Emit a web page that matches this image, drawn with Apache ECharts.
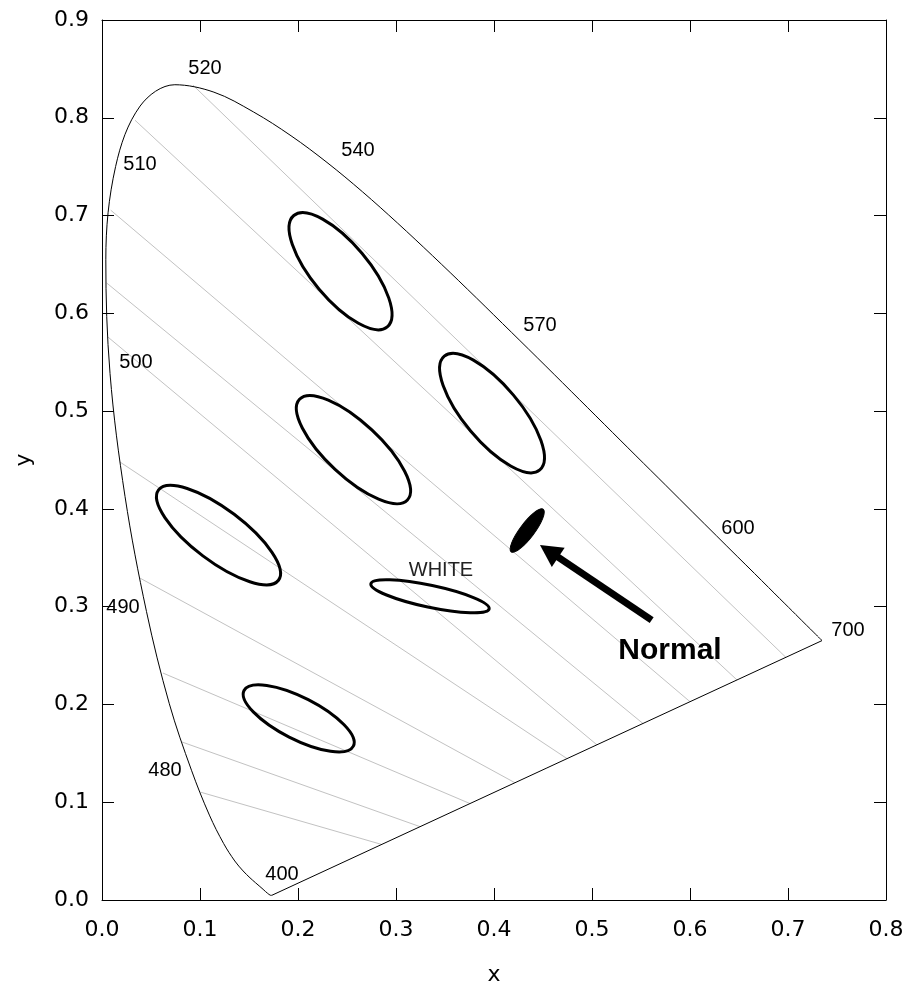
<!DOCTYPE html>
<html><head><meta charset="utf-8">
<script src="https://cdn.jsdelivr.net/npm/echarts@6/dist/echarts.min.js"></script>
<style>html,body{margin:0;padding:0;background:#fff}#c{width:909px;height:992px}</style>
</head><body><div id="c"></div>
<script>
// Spectral locus (400..700 nm)
const locusX = [0.1733,0.1730,0.1726,0.1721,0.1714,0.1703,0.1689,0.1669,0.1644,0.1611,0.1566,0.1510,0.1440,0.1355,0.1241,0.1096,0.0913,0.0687,0.0454,0.0235,0.0082,0.0039,0.0139,0.0389,0.0743,0.1142,0.1547,0.1929,0.2296,0.2658,0.3016,0.3373,0.3731,0.4087,0.4441,0.4788,0.5125,0.5448,0.5752,0.6029,0.6270,0.6482,0.6658,0.6801,0.6915,0.7006,0.7079,0.7140,0.7190,0.7230,0.7260,0.7283,0.7300,0.7311,0.7320,0.7327,0.7334,0.7340,0.7344,0.7346,0.7347];
const locusY = [0.0048,0.0048,0.0048,0.0048,0.0051,0.0058,0.0069,0.0086,0.0109,0.0138,0.0177,0.0227,0.0297,0.0399,0.0578,0.0868,0.1327,0.2007,0.2950,0.4127,0.5384,0.6548,0.7502,0.8120,0.8338,0.8262,0.8059,0.7816,0.7543,0.7243,0.6923,0.6589,0.6245,0.5896,0.5547,0.5202,0.4866,0.4544,0.4242,0.3965,0.3725,0.3514,0.3340,0.3197,0.3083,0.2993,0.2920,0.2859,0.2809,0.2770,0.2740,0.2717,0.2700,0.2689,0.2680,0.2673,0.2666,0.2660,0.2656,0.2654,0.2653];
// Purple line (700 nm back to 400 nm)
const purpleX = [0.7347, 0.1733];
const purpleY = [0.2653, 0.0048];

// Gray confusion lines: start and end points
const lineX1 = [0.0929, 0.0337, 0.0089, 0.0048, 0.0061, 0.0184, 0.0388, 0.0622, 0.0816, 0.1002];
const lineY1 = [0.8333, 0.7975, 0.7055, 0.6310, 0.5757, 0.4479, 0.3292, 0.2321, 0.1616, 0.1104];
const lineX2 = [0.698, 0.648, 0.600, 0.552, 0.505, 0.4745, 0.4214, 0.3755, 0.3245, 0.2854];
const lineY2 = [0.248, 0.225, 0.2028, 0.1805, 0.1587, 0.1446, 0.1199, 0.0986, 0.0750, 0.0568];

// Outlined ellipses: centre, semi-axes, angle (deg, counter-clockwise)
const ellX = [0.2434, 0.3980, 0.2566, 0.1189, 0.2007, 0.3347];
const ellY = [0.6431, 0.4980, 0.4606, 0.3732, 0.1858, 0.3106];
const ellA = [0.0742, 0.0758, 0.0753, 0.0766, 0.0626, 0.0617];
const ellB = [0.0286, 0.0286, 0.0276, 0.0266, 0.0215, 0.0112];
const ellAngle = [-50, -50, -43, -37, -27, -12];

// Filled "Normal" ellipse
const normX = [0.4339], normY = [0.3778], normA = [0.0272], normB = [0.0074], normAngle = [53];

// Arrow: tail -> tip
const arrowX = [0.5609, 0.4469];
const arrowY = [0.2863, 0.3630];

// Wavelength labels
const waveNames = ['520','540','510','570','500','490','480','400','600','700'];
const waveX = [0.1051, 0.2612, 0.0388, 0.4469, 0.0347, 0.0214, 0.0643, 0.1837, 0.6490, 0.7612];
const waveY = [0.8507, 0.7669, 0.7526, 0.5879, 0.5501, 0.2996, 0.1329, 0.0256, 0.3804, 0.2761];

// Text annotations
const noteNames = ['WHITE', 'Normal'];
const noteX = [0.3459, 0.5796];
const noteY = [0.3374, 0.2546];

const chart = echarts.init(document.getElementById('c'), null, {renderer: 'canvas'});
const tickFont = {fontFamily: 'DejaVu Sans', fontSize: 22, color: '#000'};
const axLine = {show: true, onZero: false, lineStyle: {color: '#000', width: 1}};
const axTick = {show: true, inside: true, length: 12, lineStyle: {color: '#000', width: 1}};

const locusData = locusX.map((x, i) => [x, locusY[i]]);
const purpleData = purpleX.map((x, i) => [x, purpleY[i]]);

function ellipseRender(params, api, filled) {
  const c = api.coord([api.value(0), api.value(1)]);
  const s = api.size([api.value(2), api.value(3)]);
  return {
    type: 'ellipse', x: c[0], y: c[1], rotation: api.value(4) * Math.PI / 180,
    shape: {cx: 0, cy: 0, rx: s[0], ry: s[1]},
    style: filled ? {fill: '#000', stroke: '#000', lineWidth: 1} : {fill: 'none', stroke: '#000', lineWidth: 3}
  };
}

const option = {
  animation: false,
  backgroundColor: '#fff',
  grid: {left: 102, top: 20, width: 784, height: 880, containLabel: false},
  xAxis: [
    {type: 'value', min: 0, max: 0.8, interval: 0.1, position: 'bottom',
     name: 'x', nameLocation: 'middle', nameGap: 64, nameTextStyle: tickFont,
     axisLine: axLine, axisTick: axTick, splitLine: {show: false},
     axisLabel: Object.assign({margin: 19, formatter: v => v.toFixed(1)}, tickFont)},
    {type: 'value', min: 0, max: 0.8, interval: 0.1, position: 'top',
     axisLine: axLine, axisTick: axTick, splitLine: {show: false}, axisLabel: {show: false}}
  ],
  yAxis: [
    {type: 'value', min: 0, max: 0.9, interval: 0.1, position: 'left',
     name: 'y', nameLocation: 'middle', nameGap: 67, nameTextStyle: tickFont,
     axisLine: axLine, axisTick: axTick, splitLine: {show: false},
     axisLabel: Object.assign({margin: 13, formatter: v => v.toFixed(1)}, tickFont)},
    {type: 'value', min: 0, max: 0.9, interval: 0.1, position: 'right',
     axisLine: axLine, axisTick: axTick, splitLine: {show: false}, axisLabel: {show: false}}
  ],
  series: [
    {type: 'lines', coordinateSystem: 'cartesian2d', silent: true, z: 1,
     lineStyle: {color: '#c2c2c2', width: 1, opacity: 1},
     data: lineX1.map((x, i) => ({coords: [[x, lineY1[i]], [lineX2[i], lineY2[i]]]}))},
    {type: 'line', data: locusData, showSymbol: false, symbol: 'none', silent: true, z: 2,
     smooth: 0.35, lineStyle: {color: '#000', width: 1}},
    {type: 'line', data: purpleData, showSymbol: false, symbol: 'none', silent: true, z: 2,
     lineStyle: {color: '#000', width: 1}},
    {type: 'custom', z: 3, silent: true,
     data: ellX.map((x, i) => [x, ellY[i], ellA[i], ellB[i], ellAngle[i]]),
     renderItem: (p, api) => ellipseRender(p, api, false)},
    {type: 'custom', z: 3, silent: true,
     data: normX.map((x, i) => [x, normY[i], normA[i], normB[i], normAngle[i]]),
     renderItem: (p, api) => ellipseRender(p, api, true)},
    {type: 'custom', z: 4, silent: true, data: [[arrowX[0], arrowY[0]]],
     renderItem: (params, api) => {
       const p0 = api.coord([arrowX[0], arrowY[0]]);
       const p1 = api.coord([arrowX[1], arrowY[1]]);
       const dx = p1[0] - p0[0], dy = p1[1] - p0[1];
       const L = Math.hypot(dx, dy), ux = dx / L, uy = dy / L;
       const headLen = 22, headW = 11.5;
       const bx = p1[0] - ux * headLen, by = p1[1] - uy * headLen;
       return {type: 'group', children: [
         {type: 'line', shape: {x1: p0[0], y1: p0[1], x2: bx + ux * 2, y2: by + uy * 2},
          style: {stroke: '#000', lineWidth: 7}},
         {type: 'polygon', shape: {points: [[p1[0], p1[1]], [bx - uy * headW, by + ux * headW], [bx + uy * headW, by - ux * headW]]},
          style: {fill: '#000'}}
       ]};
     }},
    {type: 'custom', z: 5, silent: true,
     data: waveX.map((x, i) => [x, waveY[i], i]),
     renderItem: (params, api) => {
       const c = api.coord([api.value(0), api.value(1)]);
       return {type: 'text', x: c[0], y: c[1], style: {text: waveNames[api.value(2)],
         fontFamily: 'Liberation Sans', fontSize: 20, fill: '#000', align: 'center', verticalAlign: 'middle'}};
     }},
    {type: 'custom', z: 5, silent: true,
     data: noteX.map((x, i) => [x, noteY[i], i]),
     renderItem: (params, api) => {
       const i = api.value(2);
       const c = api.coord([api.value(0), api.value(1)]);
       return {type: 'text', x: c[0], y: c[1], style: {text: noteNames[i],
         fontFamily: 'Liberation Sans', fontSize: i === 1 ? 30 : 20, fontWeight: i === 1 ? 'bold' : 'normal',
         fill: i === 1 ? '#000' : '#222', align: 'center', verticalAlign: 'middle'}};
     }}
  ]
};
chart.setOption(option);
</script>
</body></html>
